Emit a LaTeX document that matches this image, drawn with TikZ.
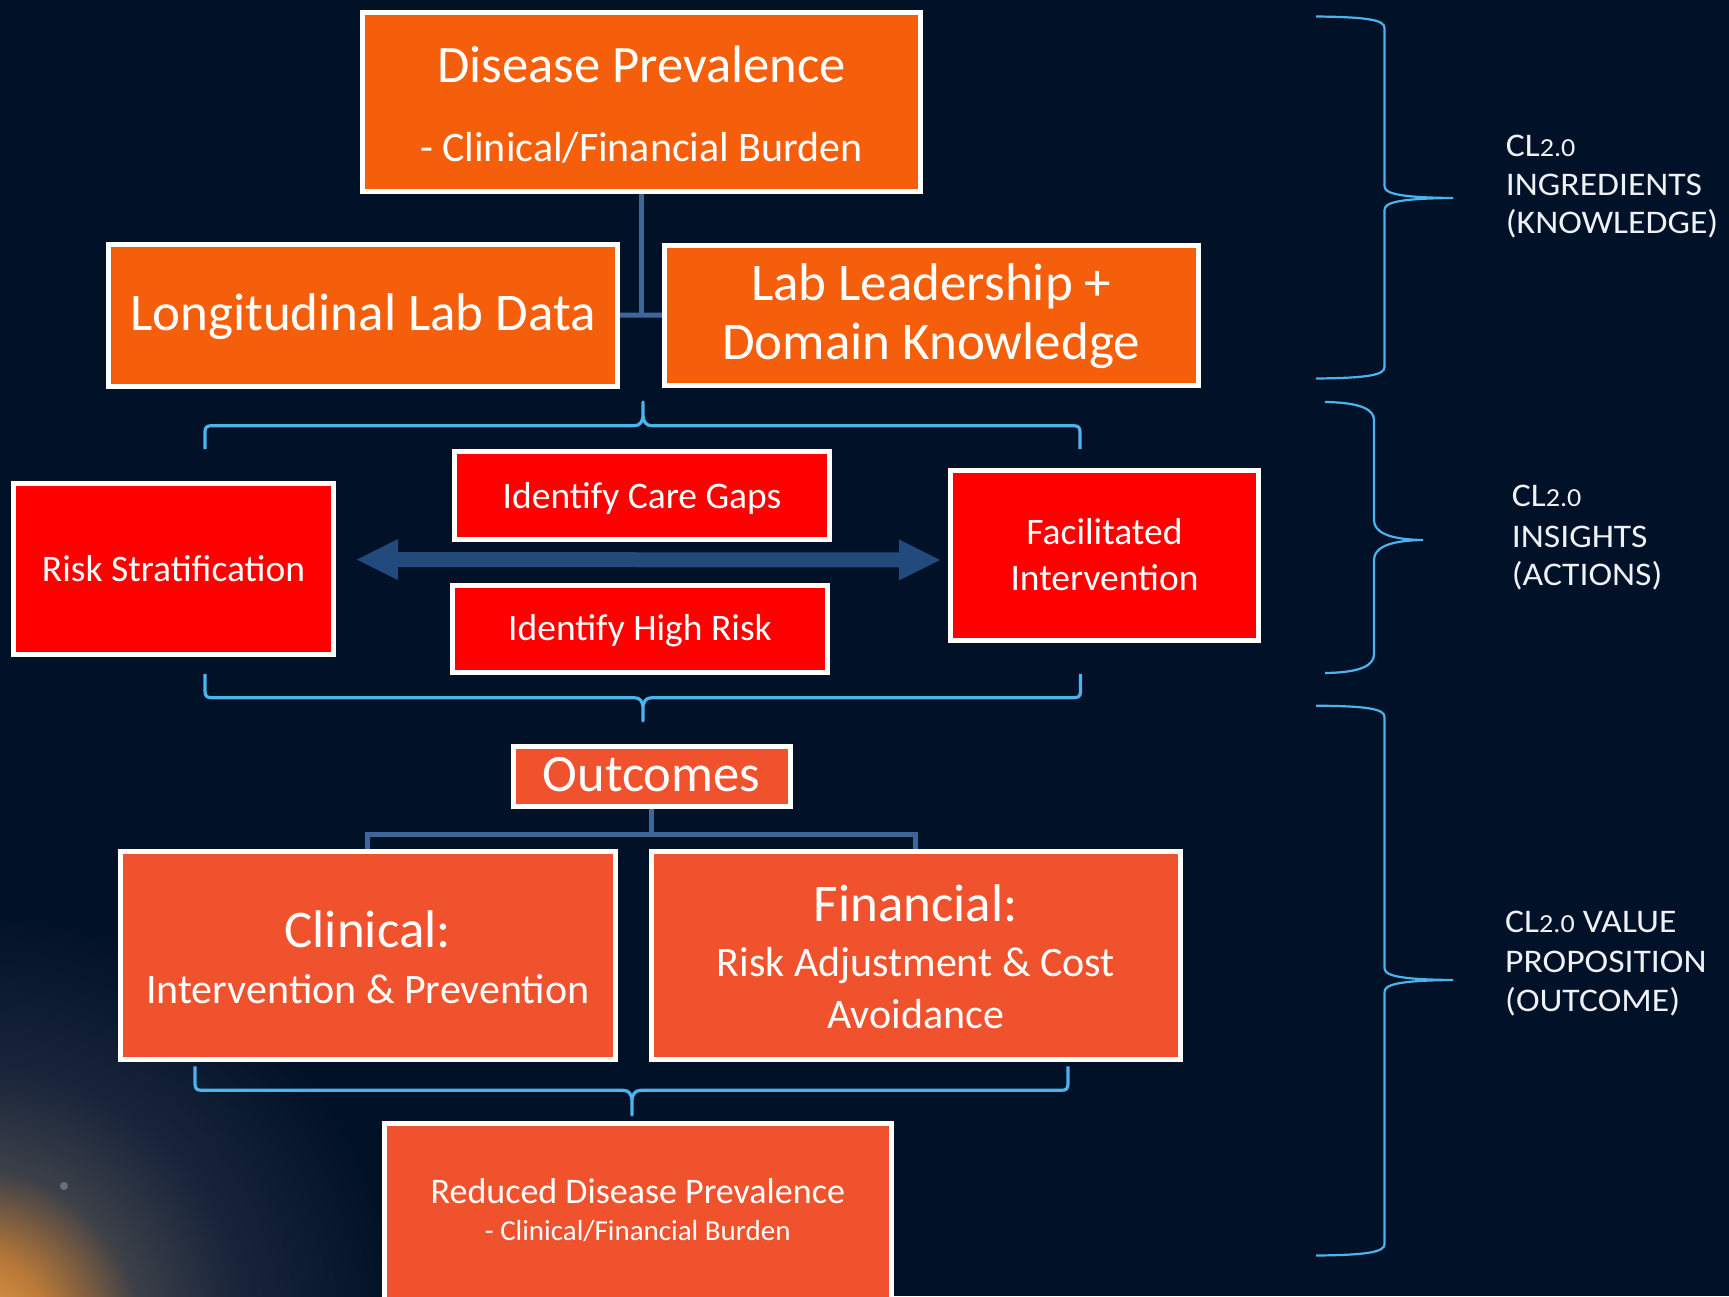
\documentclass[tikz,border=0pt]{standalone}
\usepackage{fontspec}
\setmainfont{Carlito}
\newfontfamily\lblfont[FakeStretch=1.08]{Carlito}
\usetikzlibrary{arrows.meta}
\definecolor{bg}{HTML}{011128}
\definecolor{orng}{HTML}{F55F0C}
\definecolor{redb}{HTML}{FF0000}
\definecolor{coral}{HTML}{F0522E}
\definecolor{conn}{HTML}{3E6699}
\definecolor{brk}{HTML}{4BB3EE}
\definecolor{arr}{HTML}{224A7C}
\definecolor{lbltxt}{HTML}{EEF2F7}
\definecolor{ga}{HTML}{F0A848}
\definecolor{gb}{HTML}{B87838}
\definecolor{gc}{HTML}{3C4048}
\definecolor{gd}{HTML}{18243A}
\pgfdeclareradialshading{glow}{\pgfpoint{0bp}{0bp}}{color(0bp)=(ga); color(5bp)=(gb); color(10bp)=(gc); color(16bp)=(gd); color(25bp)=(bg); color(50bp)=(bg)}
\newcommand\cltwo{CL{\fontsize{26}{26}\selectfont 2.0}}
\begin{document}
\begin{tikzpicture}[x=1pt,y=-1pt,
  bx/.style={draw=white, line width=5pt, inner sep=0pt, outer sep=0pt, rectangle},
  tx/.style={text=white, inner sep=0pt, anchor=base},
  lb/.style={text=lbltxt, inner sep=0pt, anchor=base west, font=\lblfont\fontsize{33}{39}\selectfont},
  cn/.style={draw=conn, line width=5pt},
  hbr/.style={draw=brk, line width=3.2pt, line join=round},
  vbr/.style={draw=brk, line width=2.2pt},
  dbl/.style={draw=arr, line width=15pt, {Triangle[width=41pt,length=41pt,line width=0pt]}-{Triangle[width=41pt,length=41pt,line width=0pt]}}]
\useasboundingbox (0,0) rectangle (1729,1296);
\fill[bg] (0,0) rectangle (1729,1296);
\begin{scope}
\clip (0,0) rectangle (1729,1296);
\shade[shading=glow] (-30,1340) circle (430);
\fill[white!40!bg] (64,1186) circle (4);
\end{scope}

% top boxes and connectors
\node[bx, fill=orng, minimum width=558pt, minimum height=179pt] (dp) at (641.5,102) {};
\node[bx, fill=orng, minimum width=509pt, minimum height=142pt] (lld) at (363,315) {};
\node[bx, fill=orng, minimum width=534.5pt, minimum height=140.5pt] (llk) at (931.25,315.25) {};
\draw[cn] (dp.south) -- (dp.south |- lld.east);
\draw[cn] (lld.east) -- (llk.west);
\node[bx, fill=orng, minimum width=558pt, minimum height=179pt] at (dp.center) {};
\node[bx, fill=orng, minimum width=509pt, minimum height=142pt] at (lld.center) {};
\node[bx, fill=orng, minimum width=534.5pt, minimum height=140.5pt] at (llk.center) {};

\node[tx, font=\fontsize{52.6}{60}\selectfont] (dpt1) at (641.5,82.7) {Disease Prevalence};
\node[tx, font=\fontsize{42}{50}\selectfont] (dpt2) at (641.5,161) {- Clinical/Financial Burden};
\node[tx, font=\fontsize{53}{60}\selectfont] (lldt) at (363,330) {Longitudinal Lab Data};
\node[tx, font=\fontsize{53}{60}\selectfont] (llkt1) at (931.25,300) {Lab Leadership +};
\node[tx, font=\fontsize{53}{60}\selectfont] (llkt2) at (931.25,359.3) {Domain Knowledge};

% upper bracket
\draw[hbr] (205,449) -- (205,432) .. controls (205,427) and (207,425.7) .. (212,425.7) -- (634,425.7) .. controls (640,425.7) and (643,422) .. (643,414) -- (643,402) -- (643,414) .. controls (643,422) and (646,425.7) .. (652,425.7) -- (1073,425.7) .. controls (1078,425.7) and (1080,427) .. (1080,432) -- (1080,449);

% insight boxes
\node[bx, fill=redb, minimum width=320pt, minimum height=170.5pt] (rs) at (173.5,568.75) {};
\node[bx, fill=redb, minimum width=375pt, minimum height=88pt] (icg) at (642,495) {};
\node[bx, fill=redb, minimum width=375pt, minimum height=87.5pt] (ihr) at (640,628.75) {};
\node[bx, fill=redb, minimum width=308pt, minimum height=170.5pt] (fi) at (1104.5,555.25) {};
\node[tx, font=\fontsize{37.5}{45}\selectfont] (rst) at (173.5,581) {Risk Stratification};
\node[tx, font=\fontsize{37.5}{45}\selectfont] (icgt) at (642,508) {Identify Care Gaps};
\node[tx, font=\fontsize{37.5}{45}\selectfont] (ihrt) at (640,640) {Identify High Risk};
\node[tx, font=\fontsize{37.5}{45}\selectfont] (fit1) at (1104.5,544.7) {Facilitated};
\node[tx, font=\fontsize{37.5}{45}\selectfont] (fit2) at (1104.5,590) {Intervention};

\coordinate (al) at (357,559.5);
\coordinate (ar) at (940,560);
\draw[dbl] (al) -- (ar);

% lower bracket
\draw[hbr] (205,674) -- (205,691) .. controls (205,696.4) and (207,697.7) .. (212,697.7) -- (634,697.7) .. controls (640,697.7) and (643,701) .. (643,709) -- (643,721) -- (643,709) .. controls (643,701) and (646,697.7) .. (652,697.7) -- (1073.5,697.7) .. controls (1078.5,697.7) and (1080.5,696.4) .. (1080.5,691) -- (1080.5,674);

% outcomes
\node[bx, fill=coral, minimum width=277pt, minimum height=60pt] (out) at (651.5,776.5) {};
\node[bx, fill=coral, minimum width=494.5pt, minimum height=208.5pt] (cl) at (367.75,955.25) {};
\node[bx, fill=coral, minimum width=529.5pt, minimum height=208.5pt] (fin) at (915.75,955.25) {};
\draw[cn] (out.south) -- ++(0,27.5) coordinate (ob);
\draw[cn] (cl.north) -- (cl.north |- ob) -- (fin.north |- ob) -- (fin.north);
\node[bx, fill=coral, minimum width=277pt, minimum height=60pt] at (out.center) {};
\node[bx, fill=coral, minimum width=494.5pt, minimum height=208.5pt] at (cl.center) {};
\node[bx, fill=coral, minimum width=529.5pt, minimum height=208.5pt] at (fin.center) {};

\node[tx, font=\fontsize{52.5}{60}\selectfont] (outt) at (651.5,791) {Outcomes};
\node[tx, font=\fontsize{53}{60}\selectfont] (clt1) at (367.75,947) {Clinical:};
\node[tx, font=\fontsize{42}{50}\selectfont] (clt2) at (367.75,1003) {Intervention \& Prevention};
\node[tx, font=\fontsize{53}{60}\selectfont] (fint1) at (915.75,921.3) {Financial:};
\node[tx, font=\fontsize{42}{50}\selectfont] (fint2) at (915.75,976) {Risk Adjustment \& Cost};
\node[tx, font=\fontsize{42}{50}\selectfont] (fint3) at (915.75,1028.6) {Avoidance};

% bottom bracket
\draw[hbr] (195,1066.4) -- (195,1083.5) .. controls (195,1089) and (197,1090.3) .. (202,1090.3) -- (623,1090.3) .. controls (629,1090.3) and (632,1094) .. (632,1102) -- (632,1115) -- (632,1102) .. controls (632,1094) and (635,1090.3) .. (641,1090.3) -- (1061,1090.3) .. controls (1066,1090.3) and (1068,1089) .. (1068,1083.5) -- (1068,1066.4);

\node[bx, fill=coral, minimum width=507.5pt, minimum height=184.5pt] (red) at (637.75,1215.25) {};
\node[tx, font=\fontsize{36}{44}\selectfont] (redt1) at (637.75,1203) {Reduced Disease Prevalence};
\node[tx, font=\fontsize{29}{35}\selectfont] (redt2) at (637.75,1240) {- Clinical/Financial Burden};

% right braces
\draw[vbr] (1316,16.5) .. controls (1368,17) and (1384.5,20) .. (1384.5,28) -- (1384.5,186) .. controls (1384.5,193) and (1396,197.5) .. (1453,198) .. controls (1396,198.5) and (1384.5,203) .. (1384.5,210) -- (1384.5,367) .. controls (1384.5,375) and (1368,378) .. (1316,378.5);
\draw[vbr] (1325,402) .. controls (1362,402.5) and (1374,410) .. (1374,420) -- (1374,520) .. controls (1374,532) and (1388,539.5) .. (1423,540) .. controls (1388,540.5) and (1374,548) .. (1374,560) -- (1374,654) .. controls (1374,665) and (1362,672.5) .. (1325,673);
\draw[vbr] (1316,705.7) .. controls (1368,706) and (1384.5,709) .. (1384.5,717) -- (1384.5,968) .. controls (1384.5,975) and (1396,979.5) .. (1453,980) .. controls (1396,980.5) and (1384.5,985) .. (1384.5,992) -- (1384.5,1244) .. controls (1384.5,1252) and (1368,1255) .. (1316,1255.5);

\node[lb] (l1a) at (1505.7,156) {\cltwo};
\node[lb] (l1b) at (1505.7,195) {INGREDIENTS};
\node[lb] (l1c) at (1505.7,233) {(KNOWLEDGE)};
\node[lb] (l2a) at (1511.7,506.7) {\cltwo};
\node[lb] (l2b) at (1511.7,547) {INSIGHTS};
\node[lb] (l2c) at (1511.7,585) {(ACTIONS)};
\node[lb] (l3a) at (1505,932) {\cltwo\ VALUE};
\node[lb] (l3b) at (1505,972) {PROPOSITION};
\node[lb] (l3c) at (1505,1011) {(OUTCOME)};
\end{tikzpicture}
\end{document}
